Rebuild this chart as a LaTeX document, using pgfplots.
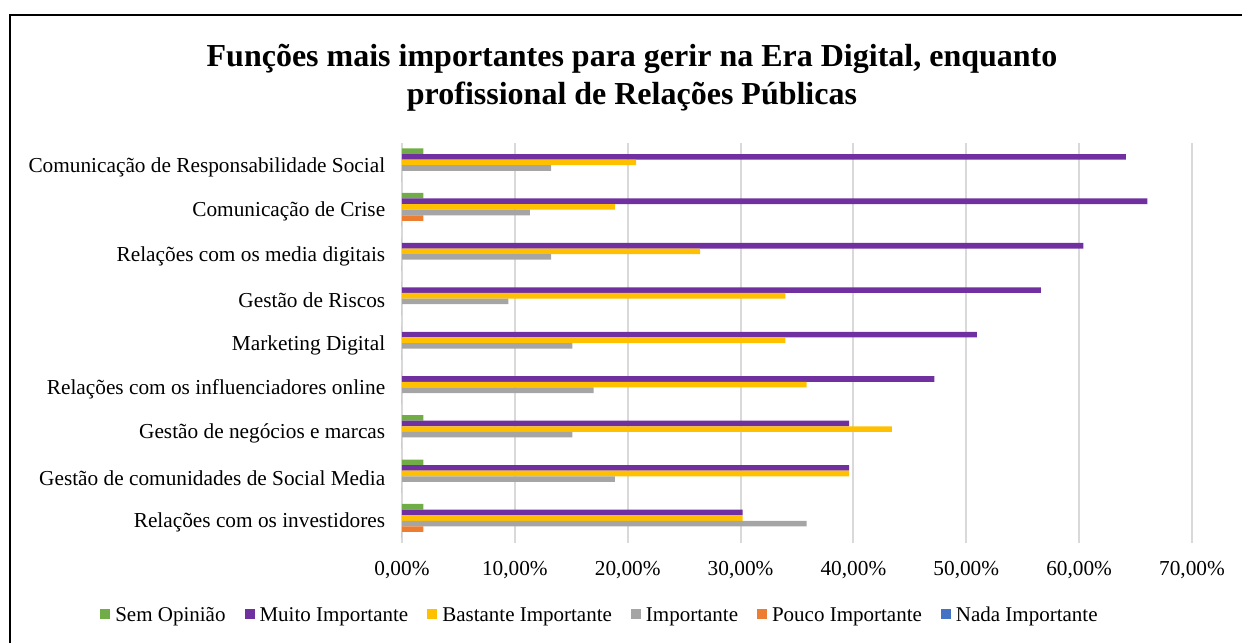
\documentclass[border=0pt]{standalone}
\usepackage{fontspec}
\setmainfont{Liberation Serif}
\usepackage{pgfplots}
\pgfplotsset{compat=1.18}
\definecolor{cGreen}{HTML}{70AD47}
\definecolor{cPurple}{HTML}{7030A0}
\definecolor{cYellow}{HTML}{FFC000}
\definecolor{cGray}{HTML}{A5A5A5}
\definecolor{cOrange}{HTML}{ED7D31}
\definecolor{cBlue}{HTML}{4472C4}
\definecolor{cGrid}{HTML}{D9D9D9}
\begin{document}
\begin{tikzpicture}
\useasboundingbox (0,0) rectangle (1242pt,643pt);
\draw[line width=2pt] (10pt,0pt) -- (10pt,628pt) -- (1242pt,628pt);
\node[align=center, font=\fontsize{32}{38}\selectfont\bfseries] at (632pt,565pt)
  {Funções mais importantes para gerir na Era Digital, enquanto\\profissional de Relações Públicas};
\begin{axis}[
  at={(402pt,100pt)}, anchor=south west,
  scale only axis, width=790pt, height=400pt,
  xbar, bar width=5.6pt,
  xmin=0, xmax=70, ymin=-0.5, ymax=8.5,
  axis line style={draw=none},
  tick style={draw=none},
  xmajorgrids, major grid style={cGrid, line width=2pt},
  xtick={0,10,20,30,40,50,60,70},
  xticklabels={{0,00\%},{10,00\%},{20,00\%},{30,00\%},{40,00\%},{50,00\%},{60,00\%},{70,00\%}},
  ytick={0,1,2,3,4,5,6,7,8},
  yticklabels={Relações com os investidores, Gestão de comunidades de Social Media, Gestão de negócios e marcas, Relações com os influenciadores online, Marketing Digital, Gestão de Riscos, Relações com os media digitais, Comunicação de Crise, Comunicação de Responsabilidade Social},
  tick label style={font=\fontsize{21.3}{25}\selectfont},
  xticklabel style={yshift=-15pt},
  yticklabel style={xshift=-9pt, yshift=-2pt},
  /pgf/number format/assume math mode=true,
  legend columns=6,
  legend style={at={(0.2506,-0.18)}, anchor=center, draw=none, fill=none,
    font=\fontsize{21}{25}\selectfont,
    /tikz/every even column/.append style={column sep=17pt}},
  legend image code/.code={\fill[#1] (0pt,-3.5pt) rectangle (10pt,6.5pt); \path (13pt,0pt);},
]
\addplot[fill=cGreen, draw=none, bar shift=14pt] coordinates {(1.89,0) (1.89,1) (1.89,2) (0,3) (0,4) (0,5) (0,6) (1.89,7) (1.89,8)};
\addplot[fill=cPurple, draw=none, bar shift=8.4pt] coordinates {(30.19,0) (39.62,1) (39.62,2) (47.17,3) (50.94,4) (56.60,5) (60.38,6) (66.04,7) (64.15,8)};
\addplot[fill=cYellow, draw=none, bar shift=2.8pt] coordinates {(30.19,0) (39.62,1) (43.40,2) (35.85,3) (33.96,4) (33.96,5) (26.42,6) (18.87,7) (20.75,8)};
\addplot[fill=cGray, draw=none, bar shift=-2.8pt] coordinates {(35.85,0) (18.87,1) (15.09,2) (16.98,3) (15.09,4) (9.43,5) (13.21,6) (11.32,7) (13.21,8)};
\addplot[fill=cOrange, draw=none, bar shift=-8.4pt] coordinates {(1.89,0) (0,1) (0,2) (0,3) (0,4) (0,5) (0,6) (1.89,7) (0,8)};
\addplot[fill=cBlue, draw=none, bar shift=-14pt] coordinates {(0,0) (0,1) (0,2) (0,3) (0,4) (0,5) (0,6) (0,7) (0,8)};
\legend{Sem Opinião, Muito Importante, Bastante Importante, Importante, Pouco Importante, Nada Importante}
\end{axis}
\end{tikzpicture}
\end{document}
